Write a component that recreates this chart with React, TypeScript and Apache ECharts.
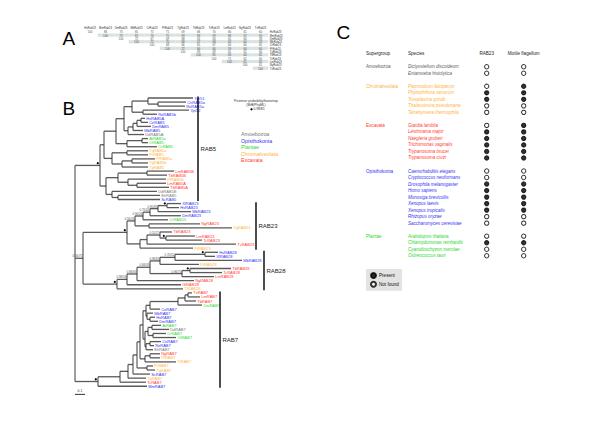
import React, { useEffect, useRef } from "react";
import * as echarts from "echarts";

const FONT = '"Liberation Sans", Arial, Helvetica, sans-serif';

// ---------- Panel A: pairwise identity of Rab23 proteins ----------
const rab23Labels = ["HsRab23", "MmRab23", "DmRab23", "MbRab23", "CrRab23", "PtRab23", "TgRab23", "TbRab23", "TcRab23", "LmRab23", "NgRab23", "TvRab23"];
// row i lists the values from column i (the diagonal) to the last column
const identityRows: number[][] = [
  [100, 86, 73, 81, 75, 71, 69, 68, 70, 66, 61, 60],
  [100, 74, 82, 76, 70, 69, 68, 69, 68, 62, 60],
  [100, 72, 67, 69, 68, 63, 63, 61, 60, 58],
  [100, 72, 70, 68, 67, 68, 63, 60, 59],
  [100, 68, 66, 65, 67, 60, 60, 62],
  [100, 72, 66, 66, 59, 60, 60],
  [100, 69, 69, 61, 61, 60],
  [100, 85, 63, 64, 61],
  [100, 71, 62, 60],
  [100, 61, 62],
  [100, 61],
  [100],
];

// ---------- Panel B: phylogeny (branch lengths in substitutions/site) ----------
const supergroupNames = ["Amoebozoa", "Chromalveolata", "Excavata", "Opisthokonta", "Plantae"];
const supergroupColors = ["#7a7a7a", "#ffb23c", "#ff3a30", "#3434f2", "#2bd92b"];
const treeLegendOrder = [0, 3, 4, 1, 2];
const prefixGroup: Record<string, number> = {
  Dd: 0, Eh: 0,
  Pf: 1, Pr: 1, Pt: 1, Tg: 1, Tp: 1, Tt: 1,
  Gl: 2, Lm: 2, Ng: 2, Tv: 2, Tb: 2, Tc: 2,
  Hs: 3, Mm: 3, Xl: 3, Xt: 3, Dm: 3, Ce: 3, Cn: 3, Mb: 3, Ro: 3, Sc: 3, Yp: 3,
  At: 4, Cr: 4, Cm: 4, Ot: 4,
};
const rab5Clade =
  "((((((Ypt51:0.45,(CnRAB5a:0.28,RoRAB5a:0.27):0.10):0.16,(Ypt52:0.46,RoRAB5b:0.14):0.11):0.08,((((HsRAB5A:0.04,CeRAB5:0.07):0.04,DmRAB5:0.14):0.04,MbRAB5:0.10):0.05,DdRAB5A:0.16):0.04):0.08,((AtRAB5a:0.06,OtRAB5:0.06):0.15,CrRAB5:0.30):0.11):0.12,((TgRAB5a:0.21,PrRAB5:0.21):0.15,((PfRAB5c:0.23,TgRAB5b:0.16):0.10,TpRAB5:0.26):0.10):0.08):0.04,(((LmRAB5B:0.27,TbRAB5B:0.20):0.29,(PfRAB5b:0.38,(LmRAB5A:0.29,TbRAB5A:0.32):0.09):0.10):0.12,(DdRAB5B:0.45,(EhRAB5:0.42,ScRAB5:0.42):0.06):0.06):0.06)*:0.25";
const rab23Clade =
  "((((((XlRAB23:0.14,HsRAB23:0.12)*:0.09,MbRAB23:0.33)0.95/83:0.08,DmRAB23:0.31)0.75/45:0.07,CrRAB23:0.25)0.90/26:0.08,(NgRAB23:0.51,TgRAB23:0.83):0.14)0.56/26:0.08,(((TbRAB23:0.12,(LmRAB23:0.29,TcRAB23:0.36)*:0.06)0.51/27:0.13,TvRAB23:0.89):0.07,PtRAB23:0.53):0.13)*:0.44";
const rab28Clade =
  "(((((((HsRAB28:0.13,XlRAB28:0.10)*:0.30,MbRAB28:0.67)0.70/52:0.15,PtRAB28:0.39)0.98/63:0.10,((TbRAB28:0.41,TcRAB28:0.32)*:0.08,LmRAB28:0.32)0.96/75:0.32)0.84/49:0.13,NgRAB28:0.57)0.86/63:0.10,GlRAB28:0.54)0.98/56:0.10,TtRAB28:0.66)*:0.34";
const rab7Clade =
  "((((((((((((TvRAB7:0.04,LmRAB7:0.12):0.03,TbRAB7:0.11):0.07,CmRAB7:0.24):0.28,CeRAB7:0.10):0.04,(MbRAB7:0.06,(HsRAB7:0.05,DmRAB7:0.08):0.03):0.01):0.03,(((AtRAB7:0.09,DdRAB7:0.17):0.04,(CrRAB7:0.13,OtRAB7:0.23):0.05):0.03,((CnRAB7:0.11,RoRAB7:0.04):0.04,EhRAB7:0.07):0.01):0.02):0.03,((NgRAB7:0.10,PfRAB7:0.10):0.05,TtRAB7:0.31):0.05):0.03,(PrRAB7:0.06,TgRAB7:0.08):0.10):0.04,ScRAB7:0.17):0.05,TpRAB7:0.18):0.08,TcRAB7:0.26):0.22,MmRAB7:0.49)*:0.23";
const rab23rab28Support = "0.56/73";
const rab23rab28Length = 0.08;
const cladeNames = ["RAB5", "RAB23", "RAB28", "RAB7"];
const cladeBarX = [1.23, 1.81, 1.89, 1.45];
const scaleBarLength = 0.1;
const scaleBarRow = 73;

// ---------- Panel C: distribution table ----------
const groupSpecies: string[][] = [
  ["Dictyostelium discoideum", "Entamoeba histolytica"],
  ["Plasmodium falciparum", "Phytophthora ramorum", "Toxoplasma gondii", "Thalassiosira pseudonana", "Tetrahymena thermophila"],
  ["Giardia lamblia", "Leishmania major", "Naegleria gruberi", "Trichomonas vaginalis", "Trypanosoma brucei", "Trypanosoma cruzi"],
  ["Caenorhabditis elegans", "Cryptococcus neoformans", "Drosophila melanogaster", "Homo sapiens", "Monosiga brevicollis", "Xenopus laevis", "Xenopus tropicalis", "Rhizopus oryzae", "Saccharomyces cerevisiae"],
  ["Arabidopsis thaliana", "Chlamydomonas reinhardtii", "Cyanidioschyzon merolae", "Ostreococcus tauri"],
];
const rab23Present: number[][] = [[0, 0], [0, 1, 1, 0, 0], [0, 1, 1, 1, 1, 1], [0, 0, 1, 1, 1, 1, 1, 0, 0], [0, 1, 0, 0]];
const flagellumPresent: number[][] = [[0, 0], [1, 1, 1, 0, 0], [1, 1, 1, 1, 1, 1], [0, 0, 1, 1, 1, 1, 1, 0, 0], [0, 1, 0, 0]];
const tableColumns = ["RAB23", "Motile flagellum"];

// ---------- helpers ----------
type TNode = { name: string; len: number; children: TNode[]; x: number; y: number; parent: TNode | null };

function parseNewick(s: string): TNode {
  let i = 0;
  const node = (): TNode => {
    const n: TNode = { name: "", len: 0, children: [], x: 0, y: 0, parent: null };
    if (s[i] === "(") {
      i++;
      n.children.push(node());
      while (s[i] === ",") {
        i++;
        n.children.push(node());
      }
      i++;
    }
    let name = "";
    while (i < s.length && ":,();".indexOf(s[i]) < 0) name += s[i++];
    n.name = name.trim();
    if (s[i] === ":") {
      i++;
      let num = "";
      while (i < s.length && ",();".indexOf(s[i]) < 0) num += s[i++];
      n.len = parseFloat(num);
    }
    n.children.forEach((c) => (c.parent = n));
    return n;
  };
  return node();
}

function buildTree() {
  const newick = `(${rab5Clade},(${rab23Clade},${rab28Clade})${rab23rab28Support}:${rab23rab28Length},${rab7Clade});`;
  const root = parseNewick(newick);
  const all: TNode[] = [];
  const leaves: TNode[] = [];
  const visit = (n: TNode, px: number) => {
    n.x = px + n.len;
    all.push(n);
    if (!n.children.length) {
      n.y = leaves.length;
      leaves.push(n);
    } else {
      n.children.forEach((c) => visit(c, n.x));
      n.y = (n.children[0].y + n.children[n.children.length - 1].y) / 2;
    }
  };
  root.len = 0;
  visit(root, 0);
  const segments: number[][] = [];
  all.forEach((n) => {
    if (n.parent) segments.push([n.parent.x, n.y, n.x, n.y]);
    if (n.children.length) segments.push([n.x, n.children[0].y, n.x, n.children[n.children.length - 1].y]);
  });
  const annotated = all.filter((n) => n.children.length && n.name);
  const leafRange = (n: TNode): [number, number] => {
    let lo = Infinity, hi = -Infinity;
    const w = (m: TNode) => {
      if (!m.children.length) { lo = Math.min(lo, m.y); hi = Math.max(hi, m.y); }
      m.children.forEach(w);
    };
    w(n);
    return [lo, hi];
  };
  const cladeRoots = [root.children[0], root.children[1].children[0], root.children[1].children[1], root.children[2]];
  const cladeRanges = cladeRoots.map(leafRange);
  return { leaves, segments, annotated, cladeRanges };
}

function leafColor(name: string) {
  const g = prefixGroup[name.slice(0, 2)];
  return g === undefined ? "#333" : supergroupColors[g];
}

function buildOption() {
  const tree = buildTree();

  // Panel A cells
  const cells: number[][] = [];
  identityRows.forEach((row, r) => {
    row.forEach((v, k) => cells.push([r + k, r, v]));
  });

  // Panel C rows
  type Row = { kind: "header" | "blank" | "sp"; g: number; s: number };
  const rows: Row[] = [{ kind: "header", g: -1, s: -1 }, { kind: "blank", g: -1, s: -1 }];
  groupSpecies.forEach((list, g) => {
    list.forEach((_, s) => rows.push({ kind: "sp", g, s }));
    if (g < groupSpecies.length - 1) rows.push({ kind: "blank", g: -1, s: -1 });
  });
  const present: number[][] = [];
  const absent: number[][] = [];
  rows.forEach((r, idx) => {
    if (r.kind !== "sp") return;
    [rab23Present, flagellumPresent].forEach((tbl, col) => {
      (tbl[r.g][r.s] ? present : absent).push([col, idx]);
    });
  });
  const richSp: any = { h: { color: "#222", fontSize: 4.6, fontFamily: FONT } };
  const richGr: any = { h: { color: "#222", fontSize: 4.6, fontFamily: FONT } };
  supergroupColors.forEach((c, g) => {
    richSp["s" + g] = { color: g === 0 ? "#5e5e5e" : c, fontStyle: "italic", fontSize: 4.5, fontFamily: FONT };
    richGr["g" + g] = { color: g === 0 ? "#5e5e5e" : c, fontSize: 4.6, fontFamily: FONT };
  });

  const cTop = 50.45;
  const cRowH = 6.517;

  const textStyle = (text: string, fill: string, fontSize: number, align: string, vAlign: string) => ({
    text, fill, fontSize, fontFamily: FONT, align, verticalAlign: vAlign, textAlign: align, textVerticalAlign: vAlign,
  });

  const graphics: any[] = [
    { type: "text", x: 62.5, y: 38, style: textStyle("A", "#000", 19, "left", "middle") },
    { type: "text", x: 62.5, y: 108, style: textStyle("B", "#000", 19, "left", "middle") },
    { type: "text", x: 336.5, y: 32.5, style: textStyle("C", "#000", 19, "left", "middle") },
    { type: "text", x: 256, y: 101, style: textStyle("Posterior probability/bootstrap", "#333", 3.3, "center", "middle") },
    { type: "text", x: 256, y: 105, style: textStyle("(MrB/PhyML)", "#333", 3.3, "center", "middle") },
    { type: "circle", shape: { cx: 251.5, cy: 109.3, r: 1.1 }, style: { fill: "#000" } },
    { type: "text", x: 253.5, y: 109.3, style: textStyle("0.98/85", "#333", 3.3, "left", "middle") },
  ];
  treeLegendOrder.forEach((g, k) => {
    graphics.push({ type: "text", x: 241, y: 134 + k * 6.5, style: textStyle(supergroupNames[g], supergroupColors[g], 5.3, "left", "middle") });
  });

  const noAxisDecor = { axisLine: { show: false }, axisTick: { show: false }, splitLine: { show: false } };

  return {
    animation: false,
    backgroundColor: "#ffffff",
    graphic: { elements: graphics },
    legend: {
      data: ["Present", "Not found"],
      orient: "vertical",
      left: 366,
      top: 269,
      backgroundColor: "#e3e3e3",
      padding: [3, 3, 3, 4],
      itemGap: 1.8,
      itemWidth: 5,
      itemHeight: 5,
      icon: "circle",
      selectedMode: false,
      textStyle: { fontSize: 4.6, fontFamily: FONT, color: "#111", padding: [0, 0, 0, -2] },
    },
    grid: [
      { left: 82.25, top: 30.2, width: 186, height: 39.6, containLabel: false, outerBoundsMode: "none" },
      { left: 75, top: 98, width: 200, height: 71 * 4.06, containLabel: false, outerBoundsMode: "none" },
      { left: 468.2, top: cTop, width: 74, height: 32 * cRowH, containLabel: false, outerBoundsMode: "none" },
    ],
    xAxis: [
      {
        gridIndex: 0, type: "category", data: rab23Labels, position: "top", ...noAxisDecor,
        axisLabel: { interval: 0, fontSize: 2.8, margin: 1.2, color: "#333", fontFamily: FONT },
      },
      { gridIndex: 1, type: "value", min: 0, max: 2, show: false },
      { gridIndex: 2, type: "category", data: tableColumns, show: false },
    ],
    yAxis: [
      {
        gridIndex: 0, type: "category", data: rab23Labels, inverse: true, position: "right", ...noAxisDecor,
        axisLabel: { interval: 0, fontSize: 2.8, margin: 1.5, color: "#333", fontFamily: FONT },
      },
      { gridIndex: 1, type: "value", min: 0, max: 71, inverse: true, show: false },
      {
        gridIndex: 2, type: "category", data: rows.map((_, i) => "r" + i), inverse: true, position: "left", offset: 0, ...noAxisDecor,
        axisLabel: {
          interval: 0, align: "left", margin: 60.2, fontSize: 4.5, fontFamily: FONT, rich: richSp,
          formatter: (_v: string, i: number) => {
            const r = rows[i];
            if (!r) return "";
            if (r.kind === "header") return "{h|Species}";
            if (r.kind === "blank") return "";
            return `{s${r.g}|${groupSpecies[r.g][r.s]}}`;
          },
        },
      },
      {
        gridIndex: 2, type: "category", data: rows.map((_, i) => "r" + i), inverse: true, position: "left", offset: 0, ...noAxisDecor,
        axisLabel: {
          interval: 0, align: "left", margin: 102.2, fontSize: 4.6, fontFamily: FONT, rich: richGr,
          formatter: (_v: string, i: number) => {
            const r = rows[i];
            if (!r) return "";
            if (r.kind === "header") return "{h|Supergroup}";
            if (r.kind === "sp" && r.s === 0) return `{g${r.g}|${supergroupNames[r.g]}}`;
            return "";
          },
        },
      },
    ],
    series: [
      {
        type: "custom", name: "identity", xAxisIndex: 0, yAxisIndex: 0, silent: true, clip: false,
        data: cells,
        renderItem: (_p: any, api: any) => {
          const c = api.coord([api.value(0), api.value(1)]);
          const sz = api.size([1, 1]);
          const shaded = api.value(1) % 2 === 1;
          return {
            type: "group",
            children: [
              {
                type: "rect",
                shape: { x: c[0] - sz[0] / 2, y: c[1] - sz[1] / 2, width: sz[0], height: sz[1] },
                style: { fill: shaded ? "#dbe2e2" : "#ffffff" },
              },
              { type: "text", x: c[0], y: c[1], style: textStyle(String(api.value(2)), "#555", 2.9, "center", "middle") },
            ],
          };
        },
      },
      {
        type: "custom", name: "branches", xAxisIndex: 1, yAxisIndex: 1, silent: true, clip: false,
        data: tree.segments,
        renderItem: (_p: any, api: any) => {
          const a = api.coord([api.value(0), api.value(1)]);
          const b = api.coord([api.value(2), api.value(3)]);
          const vertical = api.value(0) === api.value(2);
          return {
            type: "line",
            shape: { x1: a[0], y1: a[1], x2: b[0], y2: b[1] },
            style: { stroke: vertical ? "#262626" : "#5a5a5a", lineWidth: vertical ? 0.9 : 1.3 },
          };
        },
      },
      {
        type: "custom", name: "leaves", xAxisIndex: 1, yAxisIndex: 1, silent: true, clip: false,
        data: tree.leaves.map((l) => [l.x, l.y]),
        renderItem: (p: any, api: any) => {
          const c = api.coord([api.value(0), api.value(1)]);
          const name = tree.leaves[p.dataIndex].name;
          return { type: "text", x: c[0] + 1.2, y: c[1], style: textStyle(name, leafColor(name), 4, "left", "middle") };
        },
      },
      {
        type: "custom", name: "support", xAxisIndex: 1, yAxisIndex: 1, silent: true, clip: false,
        data: tree.annotated.map((n) => [n.x, n.y]),
        renderItem: (p: any, api: any) => {
          const c = api.coord([api.value(0), api.value(1)]);
          const label = tree.annotated[p.dataIndex].name;
          if (label === "*") {
            return { type: "circle", shape: { cx: c[0] - 2.2, cy: c[1] - 2.2, r: 1.1 }, style: { fill: "#000" } };
          }
          return { type: "text", x: c[0] - 0.6, y: c[1] - 0.8, style: textStyle(label, "#555", 3, "right", "bottom") };
        },
      },
      {
        type: "custom", name: "clades", xAxisIndex: 1, yAxisIndex: 1, silent: true, clip: false,
        data: cladeNames.map((_, k) => [cladeBarX[k], tree.cladeRanges[k][0] - 0.35, tree.cladeRanges[k][1] + 0.35]),
        renderItem: (p: any, api: any) => {
          const a = api.coord([api.value(0), api.value(1)]);
          const b = api.coord([api.value(0), api.value(2)]);
          return {
            type: "group",
            children: [
              { type: "line", shape: { x1: a[0], y1: a[1], x2: b[0], y2: b[1] }, style: { stroke: "#000", lineWidth: 1.4 } },
              { type: "text", x: a[0] + 2.5, y: (a[1] + b[1]) / 2, style: textStyle(cladeNames[p.dataIndex], "#222", 6, "left", "middle") },
            ],
          };
        },
      },
      {
        type: "custom", name: "scale", xAxisIndex: 1, yAxisIndex: 1, silent: true, clip: false,
        data: [[0, scaleBarRow, scaleBarLength]],
        renderItem: (_p: any, api: any) => {
          const a = api.coord([api.value(0), api.value(1)]);
          const b = api.coord([api.value(0) + api.value(2), api.value(1)]);
          return {
            type: "group",
            children: [
              { type: "line", shape: { x1: a[0], y1: a[1], x2: b[0], y2: b[1] }, style: { stroke: "#000", lineWidth: 0.8 } },
              { type: "text", x: (a[0] + b[0]) / 2, y: a[1] - 1.2, style: textStyle(String(scaleBarLength), "#333", 3.5, "center", "bottom") },
            ],
          };
        },
      },
      {
        type: "custom", name: "columnHeads", xAxisIndex: 2, yAxisIndex: 2, silent: true, clip: false,
        data: tableColumns.map((_, k) => [k, 0]),
        renderItem: (p: any, api: any) => {
          const c = api.coord([api.value(0), api.value(1)]);
          return { type: "text", x: c[0], y: c[1], style: textStyle(tableColumns[p.dataIndex], "#222", 4.6, "center", "middle") };
        },
      },
      {
        type: "scatter", name: "Present", xAxisIndex: 2, yAxisIndex: 2, data: present, symbolSize: 4.3, silent: true,
        itemStyle: { color: "#000", borderColor: "#000", borderWidth: 1 },
      },
      {
        type: "scatter", name: "Not found", xAxisIndex: 2, yAxisIndex: 2, data: absent, symbolSize: 4.3, silent: true,
        itemStyle: { color: "#fff", borderColor: "#000", borderWidth: 1 },
      },
    ],
  };
}

export default function App() {
  const ref = useRef<HTMLDivElement>(null);
  useEffect(() => {
    if (!ref.current) return;
    const chart = echarts.init(ref.current, null, { renderer: "svg" });
    chart.setOption(buildOption() as any);
    return () => chart.dispose();
  }, []);
  return <div ref={ref} style={{ position: "absolute", left: 0, top: 0, width: 600, height: 424 }} />;
}
